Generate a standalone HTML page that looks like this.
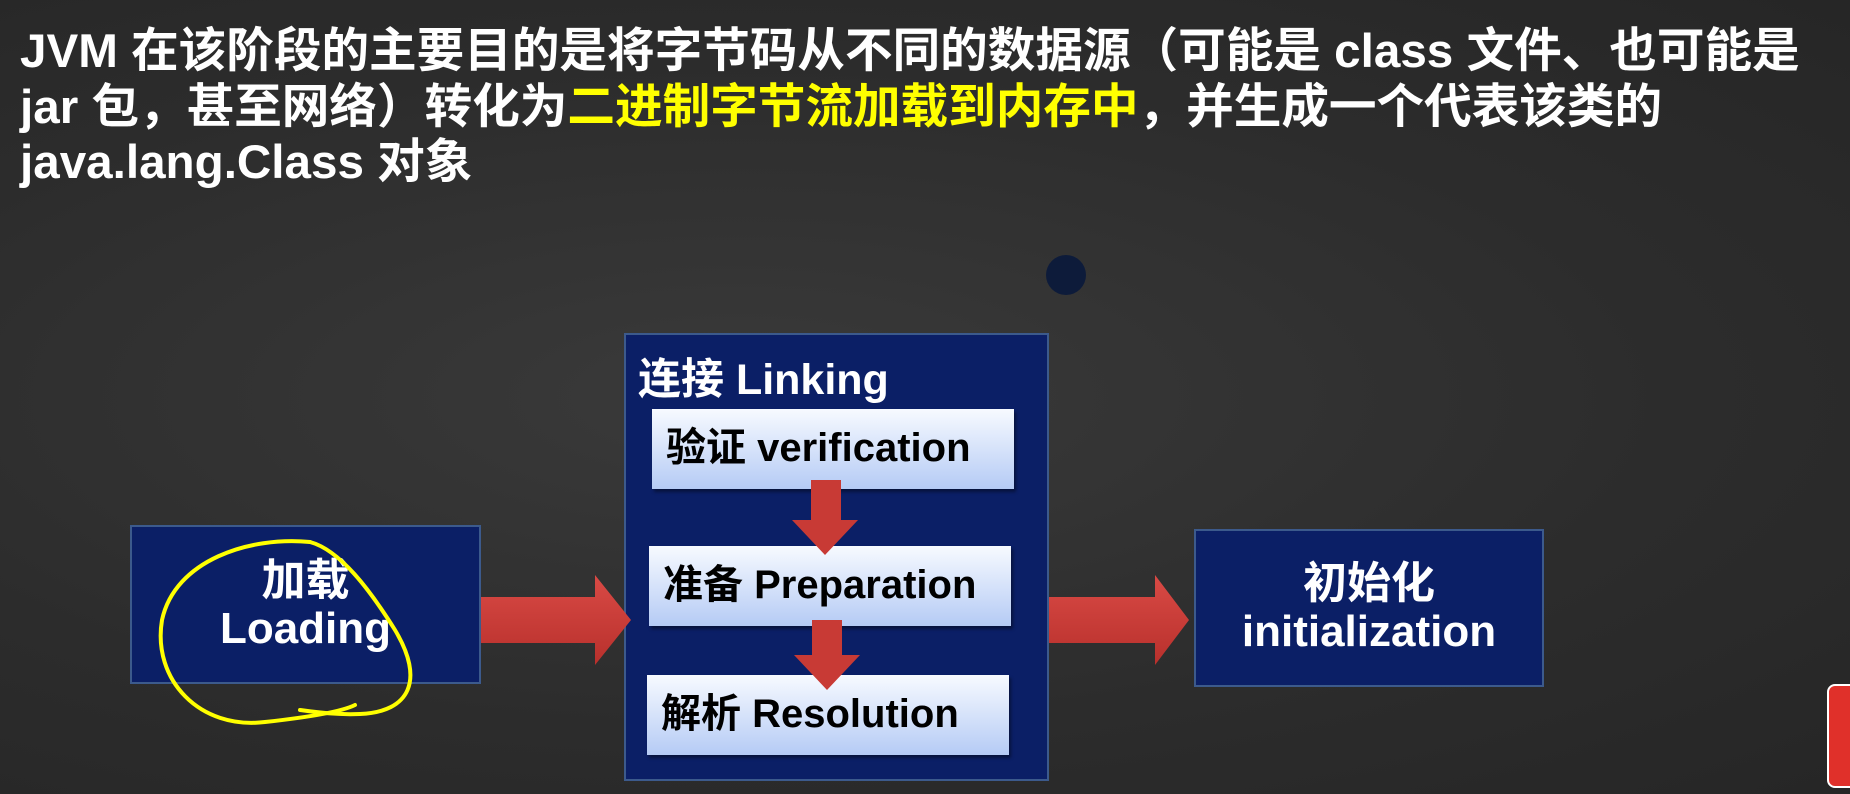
<!DOCTYPE html>
<html><head><meta charset="utf-8"><style>
body{margin:0;width:1850px;height:794px;overflow:hidden;background:#2d2d2d;position:relative;font-family:"Liberation Sans","Noto Sans CJK SC",sans-serif;}
.bg{position:absolute;inset:0;background:radial-gradient(ellipse at 40% 50%,#3a3a3a 0%,#2c2c2c 60%,#262626 100%);}
.t{position:absolute;left:20px;color:#fff;font-weight:bold;font-size:47.6px;white-space:nowrap;line-height:55px;}
.y{color:#ffff00}
.nb{position:absolute;background:#0b1f66;border:2px solid #3c5a8c;box-sizing:border-box;color:#fff;font-weight:bold;}
.ib{position:absolute;background:linear-gradient(#f7faff,#b5cbf5);box-sizing:border-box;color:#000;font-weight:bold;font-size:40px;line-height:78px;padding-left:14px;white-space:nowrap;box-shadow:2px 3px 3px rgba(0,0,0,.4);}
.c{display:flex;flex-direction:column;align-items:center;justify-content:center;font-size:44px;line-height:48px;}
</style></head><body>
<div class="bg"></div>
<div class="t" style="top:24px">JVM 在该阶段的主要目的是将字节码从不同的数据源（可能是 class 文件、也可能是</div>
<div class="t" style="top:80px">jar 包，甚至网络）转化为<span class="y">二进制字节流加载到内存中</span>，并生成一个代表该类的</div>
<div class="t" style="top:135px">java.lang.Class 对象</div>

<div style="position:absolute;left:1046px;top:255px;width:40px;height:40px;border-radius:50%;background:#0d1b3a;"></div>
<div style="position:absolute;left:1827px;top:684px;width:30px;height:100px;border-radius:8px;background:#e0302a;border:2px solid #fff;"></div>

<div class="nb c" style="left:130px;top:525px;width:351px;height:159px;"><div>加载</div><div>Loading</div></div>
<div class="nb" style="left:624px;top:333px;width:425px;height:448px;">
  <div style="position:absolute;left:12px;top:10px;font-size:43px;">连接 Linking</div>
</div>
<div class="nb c" style="left:1194px;top:529px;width:350px;height:158px;"><div>初始化</div><div>initialization</div></div>

<div class="ib" style="left:652px;top:409px;width:362px;height:80px;">验证 verification</div>
<div class="ib" style="left:649px;top:546px;width:362px;height:80px;">准备 Preparation</div>
<div class="ib" style="left:647px;top:675px;width:362px;height:80px;">解析 Resolution</div>

<svg width="1850" height="794" style="position:absolute;left:0;top:0">
<defs><linearGradient id="r" x1="0" y1="0" x2="0" y2="1"><stop offset="0" stop-color="#d94a45"/><stop offset="1" stop-color="#b8302c"/></linearGradient></defs>
<polygon points="481,597 595,597 595,575 631,620 595,665 595,643 481,643" fill="url(#r)"/>
<polygon points="1049,597 1155,597 1155,575 1189,620 1155,665 1155,643 1049,643" fill="url(#r)"/>
<polygon points="811,480 841,480 841,520 858,520 825,555 792,520 811,520" fill="#c83a35"/>
<polygon points="812,620 842,620 842,655 860,655 827,690 794,655 812,655" fill="#c83a35"/>
<path d="M310,542 C250,536 175,560 162,620 C152,680 200,730 265,722 C320,716 345,710 355,705" fill="none" stroke="#ffff00" stroke-width="4" stroke-linecap="round"/>
<path d="M310,542 C340,550 370,590 395,630 C425,680 410,712 360,714 C335,715 315,712 300,710" fill="none" stroke="#ffff00" stroke-width="4" stroke-linecap="round"/>
</svg>
</body></html>
